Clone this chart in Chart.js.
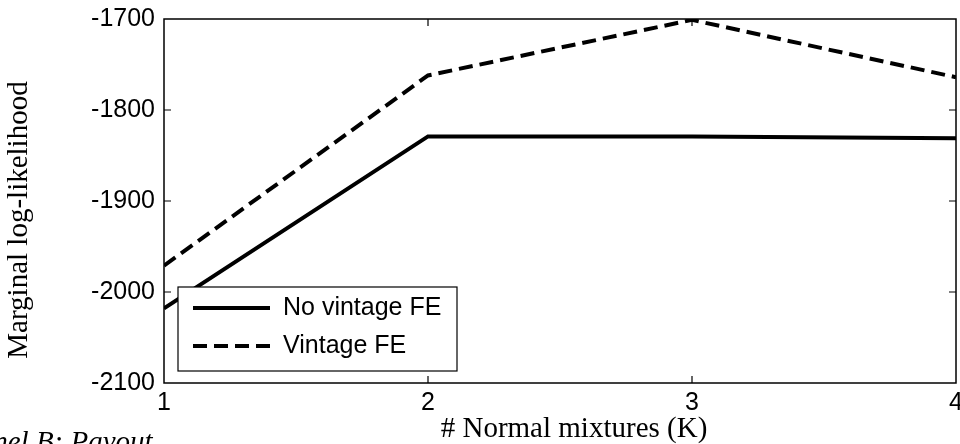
<!DOCTYPE html>
<html>
<head>
<meta charset="utf-8">
<script src="https://cdn.jsdelivr.net/npm/chart.js@4.4.1/dist/chart.umd.min.js"></script>
<style>
  html, body { margin: 0; padding: 0; background: #fff; }
  #wrap { width: 960px; height: 444px; }
</style>
</head>
<body>
<div id="wrap"><canvas id="llChart"></canvas></div>
<script>
// number of normal mixtures K
const mixtures = [1, 2, 3, 4];
// marginal log-likelihood per K
const noVintageFE = [-2018, -1829, -1829, -1831];
const vintageFE = [-1971, -1762, -1701, -1764];
const yTicks = [-2100, -2000, -1900, -1800, -1700];

const sansFont = "'Liberation Sans', Arial, sans-serif";
const serifFont = "'Liberation Serif', 'Times New Roman', serif";

// frame, inward ticks, legend box, axis titles and panel caption
const matlabBox = {
    id: 'matlabBox',
    afterDatasetsDraw(chart) {
        const { ctx, chartArea: a, scales } = chart;
        ctx.save();
        ctx.strokeStyle = '#000';
        ctx.lineWidth = 1.5;
        ctx.strokeRect(a.left, a.top, a.right - a.left, a.bottom - a.top);

        // small inward tick marks on all four sides
        ctx.lineWidth = 1.2;
        const len = 7;
        ctx.beginPath();
        mixtures.slice(1, -1).forEach(k => {
            const px = scales.x.getPixelForValue(k);
            ctx.moveTo(px, a.bottom); ctx.lineTo(px, a.bottom - len);
            ctx.moveTo(px, a.top); ctx.lineTo(px, a.top + len);
        });
        yTicks.slice(1, -1).forEach(v => {
            const py = scales.y.getPixelForValue(v);
            ctx.moveTo(a.left, py); ctx.lineTo(a.left + len, py);
            ctx.moveTo(a.right, py); ctx.lineTo(a.right - len, py);
        });
        ctx.stroke();

        // legend
        const bx = a.left + 14, by = a.top + 268, bw = 279, bh = 84;
        ctx.fillStyle = '#fff';
        ctx.fillRect(bx, by, bw, bh);
        ctx.lineWidth = 1.2;
        ctx.strokeRect(bx, by, bw, bh);
        ctx.font = '25px ' + sansFont;
        ctx.textBaseline = 'middle';
        ctx.textAlign = 'left';
        chart.data.datasets.forEach((ds, i) => {
            const cy = by + 21 + i * 38;
            ctx.beginPath();
            ctx.lineWidth = ds.borderWidth;
            ctx.setLineDash(ds.borderDash || []);
            ctx.moveTo(bx + 15, cy);
            ctx.lineTo(bx + 92, cy);
            ctx.strokeStyle = ds.borderColor;
            ctx.stroke();
            ctx.setLineDash([]);
            ctx.fillStyle = '#000';
            ctx.fillText(ds.label, bx + 105, cy);
        });

        // axis titles
        ctx.fillStyle = '#000';
        ctx.font = '29px ' + serifFont;
        ctx.textAlign = 'center';
        ctx.textBaseline = 'middle';
        ctx.fillText('# Normal mixtures (K)', 574, 429);
        ctx.save();
        ctx.translate(19, 220);
        ctx.rotate(-Math.PI / 2);
        ctx.fillText('Marginal log-likelihood', 0, 0);
        ctx.restore();

        // panel caption, cut off at the lower left
        ctx.font = 'italic 29px ' + serifFont;
        ctx.textAlign = 'left';
        ctx.textBaseline = 'top';
        ctx.fillText('Panel B: Payout', -39, 429);
        ctx.restore();
    }
};

const ctx = document.getElementById('llChart').getContext('2d');

const data = {
    datasets: [
        {
            label: 'No vintage FE',
            data: mixtures.map((k, i) => ({ x: k, y: noVintageFE[i] })),
            borderColor: '#000',
            borderWidth: 4,
            pointRadius: 0,
            fill: false
        },
        {
            label: 'Vintage FE',
            data: mixtures.map((k, i) => ({ x: k, y: vintageFE[i] })),
            borderColor: '#000',
            borderWidth: 4,
            borderDash: [14, 7],
            pointRadius: 0,
            fill: false
        }
    ]
};

const config = {
    type: 'line',
    data: data,
    plugins: [matlabBox],
    options: {
        responsive: false,
        animation: false,
        layout: { padding: { top: 19, right: 4, left: 0, bottom: 0 } },
        plugins: {
            legend: { display: false },
            tooltip: { enabled: false }
        },
        scales: {
            x: {
                type: 'linear',
                min: 1,
                max: 4,
                grid: { display: false },
                border: { display: false },
                ticks: {
                    stepSize: 1,
                    maxRotation: 0,
                    padding: -3,
                    color: '#000',
                    font: { family: sansFont, size: 25 },
                    callback: v => String(v)
                },
                afterFit: s => { s.height = 61; s.paddingLeft = 0; s.paddingRight = 0; }
            },
            y: {
                min: -2100,
                max: -1700,
                grid: { display: false },
                border: { display: false },
                ticks: {
                    stepSize: 100,
                    padding: 1,
                    color: '#000',
                    font: { family: sansFont, size: 25 },
                    callback: v => String(v)
                },
                afterFit: s => { s.width = 164; s.paddingTop = 0; s.paddingBottom = 0; }
            }
        }
    }
};

const canvas = document.getElementById('llChart');
canvas.width = 960;
canvas.height = 444;
const llChart = new Chart(ctx, config);
</script>
</body>
</html>
